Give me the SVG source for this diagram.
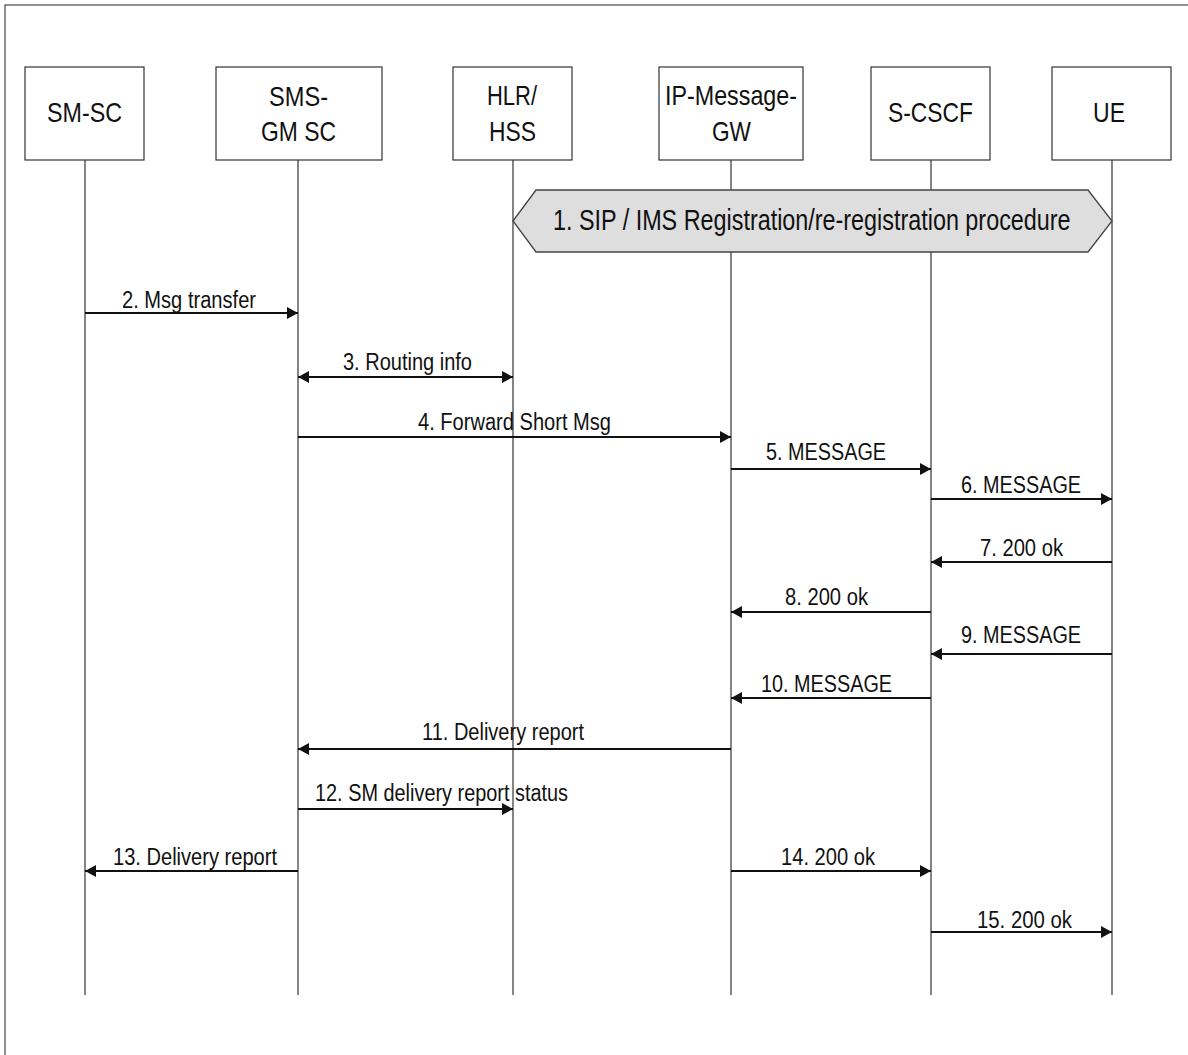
<svg xmlns="http://www.w3.org/2000/svg" width="1188" height="1055" viewBox="0 0 1188 1055">
  <style>
    .frame { fill: none; stroke: #555; stroke-width: 1.3; }
    .box { fill: #fff; stroke: #333; stroke-width: 1.2; }
    .life { stroke: #333; stroke-width: 1.2; fill: none; }
    .msg { stroke: #111; stroke-width: 1.8; fill: none; }
    .hdr { font-family: "Liberation Sans", Arial, sans-serif; font-size: 28px; fill: #111; }
    .lbl { font-family: "Liberation Sans", Arial, sans-serif; font-size: 23px; fill: #111; }
    .proc { font-family: "Liberation Sans", Arial, sans-serif; font-size: 30px; fill: #111; }
  </style>
  <defs>
    <marker id="arrow" markerUnits="userSpaceOnUse" markerWidth="12" markerHeight="13" refX="11" refY="6" orient="auto-start-reverse">
      <path d="M0,0 L11,6 L0,12 z" fill="#111"/>
    </marker>
  </defs>

  <rect class="frame" x="5" y="5" width="1200" height="1070"/>

  <!-- participants -->
  <g id="node-smsc">
    <rect class="box" x="25" y="67" width="119" height="93"/>
    <text class="hdr" x="47" y="122" textLength="75" lengthAdjust="spacingAndGlyphs">SM-SC</text>
  </g>
  <g id="node-smsgmsc">
    <rect class="box" x="216" y="67" width="166" height="93"/>
    <text class="hdr" x="269" y="106" textLength="59" lengthAdjust="spacingAndGlyphs">SMS-</text>
    <text class="hdr" x="261" y="141" textLength="75" lengthAdjust="spacingAndGlyphs">GM SC</text>
  </g>
  <g id="node-hlr">
    <rect class="box" x="453" y="67" width="119" height="93"/>
    <text class="hdr" x="487" y="105" textLength="50" lengthAdjust="spacingAndGlyphs">HLR/</text>
    <text class="hdr" x="489" y="141" textLength="47" lengthAdjust="spacingAndGlyphs">HSS</text>
  </g>
  <g id="node-ipgw">
    <rect class="box" x="659" y="67" width="144" height="93"/>
    <text class="hdr" x="665" y="105" textLength="132" lengthAdjust="spacingAndGlyphs">IP-Message-</text>
    <text class="hdr" x="712" y="141" textLength="39" lengthAdjust="spacingAndGlyphs">GW</text>
  </g>
  <g id="node-scscf">
    <rect class="box" x="871" y="67" width="119" height="93"/>
    <text class="hdr" x="888" y="122" textLength="85" lengthAdjust="spacingAndGlyphs">S-CSCF</text>
  </g>
  <g id="node-ue">
    <rect class="box" x="1052" y="67" width="119" height="93"/>
    <text class="hdr" x="1093" y="122" textLength="32" lengthAdjust="spacingAndGlyphs">UE</text>
  </g>

  <!-- lifelines -->
  <g id="lifelines">
    <line class="life" x1="85" y1="160" x2="85" y2="995"/>
    <line class="life" x1="298" y1="160" x2="298" y2="995"/>
    <line class="life" x1="513" y1="160" x2="513" y2="995"/>
    <line class="life" x1="731" y1="160" x2="731" y2="995"/>
    <line class="life" x1="931" y1="160" x2="931" y2="995"/>
    <line class="life" x1="1112" y1="160" x2="1112" y2="183"/>
    <line class="life" x1="1112" y1="183" x2="1112" y2="995" stroke-width="2"/>
  </g>

  <!-- registration procedure -->
  <g id="node-registration">
    <polygon points="513,221 536,190 1088,190 1112,221 1088,252 536,252" fill="#dedede" stroke="#444" stroke-width="1.3"/>
    <text class="proc" transform="translate(553,230) scale(0.779,1)" x="0" y="0">1. SIP / IMS Registration/re-registration procedure</text>
  </g>

  <!-- messages -->
  <g id="connectors">
    <line class="msg" x1="85" y1="313" x2="298" y2="313" marker-end="url(#arrow)"/>
    <line class="msg" x1="298" y1="377" x2="513" y2="377" marker-start="url(#arrow)" marker-end="url(#arrow)"/>
    <line class="msg" x1="298" y1="437" x2="731" y2="437" marker-end="url(#arrow)"/>
    <line class="msg" x1="731" y1="469" x2="931" y2="469" marker-end="url(#arrow)"/>
    <line class="msg" x1="931" y1="499" x2="1112" y2="499" marker-end="url(#arrow)"/>
    <line class="msg" x1="1112" y1="562" x2="931" y2="562" marker-end="url(#arrow)"/>
    <line class="msg" x1="931" y1="612" x2="731" y2="612" marker-end="url(#arrow)"/>
    <line class="msg" x1="1112" y1="654" x2="931" y2="654" marker-end="url(#arrow)"/>
    <line class="msg" x1="931" y1="698" x2="731" y2="698" marker-end="url(#arrow)"/>
    <line class="msg" x1="731" y1="749" x2="298" y2="749" marker-end="url(#arrow)"/>
    <line class="msg" x1="298" y1="809" x2="513" y2="809" marker-end="url(#arrow)"/>
    <line class="msg" x1="298" y1="871" x2="85" y2="871" marker-end="url(#arrow)"/>
    <line class="msg" x1="731" y1="871" x2="931" y2="871" marker-end="url(#arrow)"/>
    <line class="msg" x1="931" y1="932" x2="1112" y2="932" marker-end="url(#arrow)"/>
  </g>

  <g id="labels">
    <text class="lbl" x="122" y="308" textLength="134" lengthAdjust="spacingAndGlyphs">2. Msg transfer</text>
    <text class="lbl" x="343" y="370" textLength="129" lengthAdjust="spacingAndGlyphs">3. Routing info</text>
    <text class="lbl" x="418" y="430" textLength="193" lengthAdjust="spacingAndGlyphs">4. Forward Short Msg</text>
    <text class="lbl" x="766" y="460" textLength="120" lengthAdjust="spacingAndGlyphs">5. MESSAGE</text>
    <text class="lbl" x="961" y="493" textLength="120" lengthAdjust="spacingAndGlyphs">6. MESSAGE</text>
    <text class="lbl" x="980" y="556" textLength="83" lengthAdjust="spacingAndGlyphs">7. 200 ok</text>
    <text class="lbl" x="785" y="605" textLength="83" lengthAdjust="spacingAndGlyphs">8. 200 ok</text>
    <text class="lbl" x="961" y="643" textLength="120" lengthAdjust="spacingAndGlyphs">9. MESSAGE</text>
    <text class="lbl" x="761" y="692" textLength="131" lengthAdjust="spacingAndGlyphs">10. MESSAGE</text>
    <text class="lbl" x="422" y="740" textLength="162" lengthAdjust="spacingAndGlyphs">11. Delivery report</text>
    <text class="lbl" x="315" y="801" textLength="253" lengthAdjust="spacingAndGlyphs">12. SM delivery report status</text>
    <text class="lbl" x="113" y="865" textLength="164" lengthAdjust="spacingAndGlyphs">13. Delivery report</text>
    <text class="lbl" x="781" y="865" textLength="94" lengthAdjust="spacingAndGlyphs">14. 200 ok</text>
    <text class="lbl" x="977" y="928" textLength="95" lengthAdjust="spacingAndGlyphs">15. 200 ok</text>
  </g>
</svg>
